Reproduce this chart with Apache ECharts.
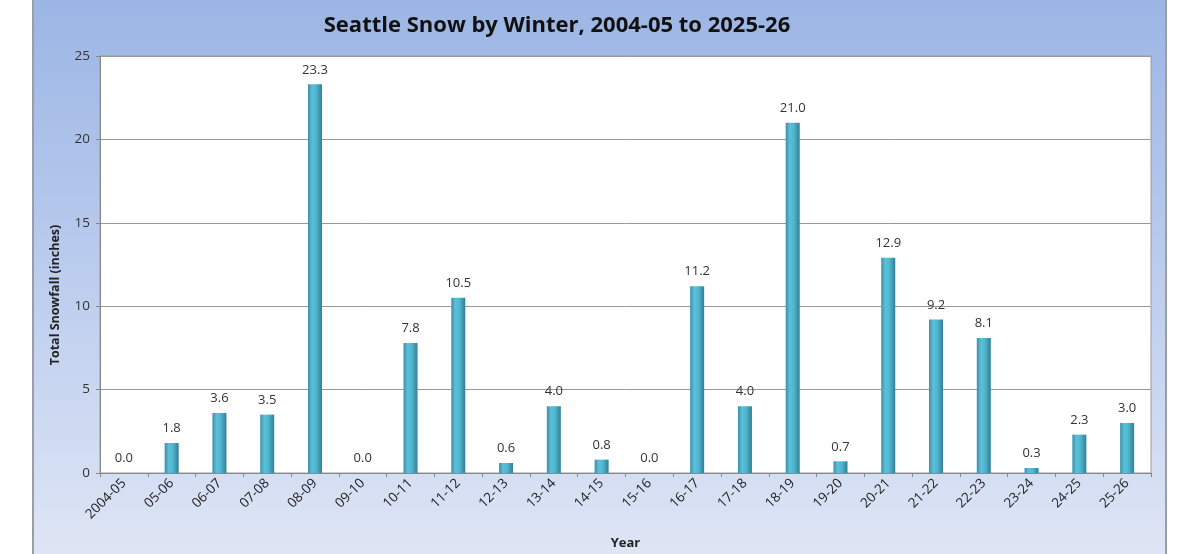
<!DOCTYPE html>
<html>
<head>
<meta charset="utf-8">
<script src="https://cdn.jsdelivr.net/npm/echarts@6/dist/echarts.min.js"></script>
<style>
html,body{margin:0;padding:0;background:#fff;}
#c{width:1199px;height:554px;}
</style>
</head>
<body>
<div id="c"></div>
<script>
const categories = ["2004-05","05-06","06-07","07-08","08-09","09-10","10-11","11-12","12-13","13-14","14-15","15-16","16-17","17-18","18-19","19-20","20-21","21-22","22-23","23-24","24-25","25-26"];
const snowfall = [0.0,1.8,3.6,3.5,23.3,0.0,7.8,10.5,0.6,4.0,0.8,0.0,11.2,4.0,21.0,0.7,12.9,9.2,8.1,0.3,2.3,3.0];
const yTicks = [0,5,10,15,20,25];

const chart = echarts.init(document.getElementById('c'));
const font = "'Open Sans', 'Liberation Sans', sans-serif";
chart.setOption({
  animation:false,
  graphic:[{
    type:'rect', z:-10, silent:true,
    shape:{x:33,y:-2,width:1133,height:560},
    style:{
      fill:new echarts.graphic.LinearGradient(0,0,0,1,[
        {offset:0,color:'#9bb5e4'},
        {offset:0.5,color:'#bccdee'},
        {offset:1,color:'#dfe6f5'}
      ]),
      stroke:'#9a9ea8', lineWidth:2
    }
  },{
    type:'text', x:55, y:295, rotation:Math.PI/2, silent:true,
    style:{text:'Total Snowfall (inches)',fontFamily:font,fontWeight:'bold',fontSize:12.5,fill:'#222',
      align:'center',verticalAlign:'middle'}
  }],
  title:{
    text:'Seattle Snow by Winter, 2004-05 to 2025-26',
    left:552, top:10, textAlign:'center',
    textStyle:{fontFamily:font,fontWeight:'bold',fontSize:22,color:'#111'}
  },
  grid:{left:100,right:48,top:56,bottom:81,outerBoundsMode:'none',containLabel:false,show:true,backgroundColor:'#fff',borderColor:'#9a9a9a',borderWidth:1},
  xAxis:{
    type:'category', data:categories,
    name:'Year', nameLocation:'middle', nameGap:64,
    nameTextStyle:{fontFamily:font,fontWeight:'bold',fontSize:13,color:'#222'},
    axisLine:{lineStyle:{color:'#888'}},
    axisTick:{show:true,alignWithLabel:false,length:4,lineStyle:{color:'#888'}},
    axisLabel:{rotate:45,fontFamily:font,fontSize:13.5,color:'#222',margin:8,interval:0}
  },
  yAxis:{
    type:'value', min:0, max:25, interval:5,
    axisLine:{show:true,lineStyle:{color:'#888'}},
    axisTick:{show:true,length:4,lineStyle:{color:'#888'}},
    axisLabel:{fontFamily:font,fontSize:13.5,color:'#333',margin:10,
      formatter:v=>yTicks.includes(v)?String(v):''},
    splitLine:{lineStyle:{color:'#999',width:1}}
  },
  series:[{
    type:'bar', data:snowfall, barWidth:14,
    itemStyle:{
      color:new echarts.graphic.LinearGradient(0,0,1,0,[
        {offset:0,color:'#3a90a8'},
        {offset:0.3,color:'#5cc0d8'},
        {offset:0.6,color:'#4fb4cd'},
        {offset:1,color:'#2f7f96'}
      ]),
      borderWidth:0
    },
    label:{show:true,position:'top',distance:8,fontFamily:font,fontSize:13,color:'#333',
      formatter:p=>p.value.toFixed(1)}
  }]
});
</script>
</body>
</html>
